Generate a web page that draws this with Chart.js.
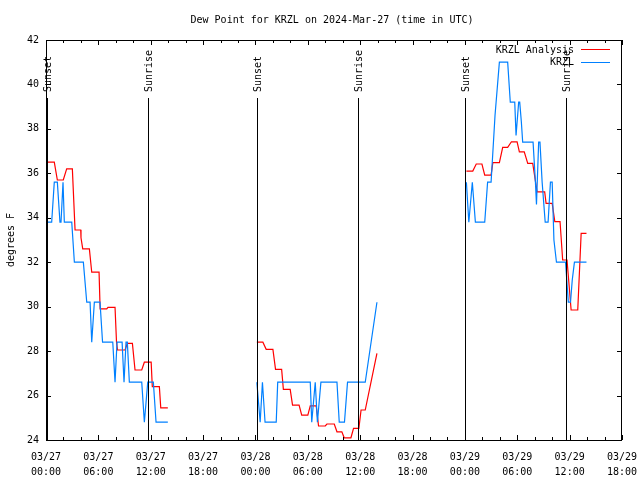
<!DOCTYPE html>
<html>
<head>
<meta charset="utf-8">
<script src="https://cdn.jsdelivr.net/npm/chart.js@4.4.1/dist/chart.umd.min.js"></script>
<style>
  html, body { margin: 0; padding: 0; background: #fff; }
  canvas { display: block; }
</style>
</head>
<body>
<canvas id="myChart" width="640" height="480"></canvas>
<script>
"use strict";
// hours since 03/27 00:00 UTC, dew point in F (null = gap in the record)
const analysisHours = [
  0, 0.95, 1.3, 1.98, 2.37, 2.87, 3.02, 3.33, 3.98, 4.01, 4.21, 4.97, 5.24, 6.08, 6.2, 6.96, 7.1, 7.91, 8.08, 8.2,
  9.06, 9.32, 9.9, 10.2, 10.97, 11.27, 12.05, 12.18, 12.99, 13.15, 13.96,
  18,
  24.16, 24.85, 25.23, 26.0, 26.3, 27.0, 27.2, 27.98, 28.25, 29.0, 29.3, 30.0, 30.28, 30.96, 31.23, 32.0, 32.19, 33.03,
  33.34, 33.9, 34.17, 34.94, 35.24, 35.85, 36.1, 36.58, 37.92,
  42,
  48.17, 48.9, 49.3, 49.95, 50.27, 51.0, 51.2, 51.95, 52.33, 52.9, 53.33, 53.98, 54.24, 54.8, 55.2, 55.77, 56.27, 57.14,
  57.3, 58.0, 58.3, 58.9, 59.2, 59.7, 60.17, 60.93, 61.32, 61.93
];
const analysisTemps = [
  36.5, 36.5, 35.7, 35.7, 36.2, 36.2, 36.2, 33.45, 33.45, 33.1, 32.6, 32.6, 31.55, 31.55, 29.9, 29.9, 29.97, 29.97, 28.4, 28.05,
  28.05, 28.35, 28.35, 27.15, 27.15, 27.5, 27.5, 26.4, 26.4, 25.45, 25.45,
  null,
  28.4, 28.4, 28.08, 28.08, 27.18, 27.18, 26.28, 26.28, 25.57, 25.57, 25.12, 25.12, 25.54, 25.54, 24.63, 24.63, 24.72, 24.72,
  24.37, 24.37, 24.1, 24.1, 24.52, 24.52, 25.35, 25.35, 27.9,
  null,
  36.1, 36.1, 36.42, 36.42, 35.92, 35.92, 36.48, 36.48, 37.17, 37.17, 37.42, 37.42, 36.97, 36.97, 36.45, 36.45, 35.17, 35.17,
  34.65, 34.65, 33.83, 33.83, 32.1, 32.1, 29.85, 29.85, 33.3, 33.3
];
const stationHours = [
  0, 0.65, 0.95, 1.3, 1.6, 1.72, 1.95, 2.1, 2.95, 3.25, 4.28, 4.67, 5.05, 5.24, 5.54, 6.19, 6.48, 7.65, 7.91, 8.14,
  8.72, 8.94, 9.17, 9.32, 9.55, 10.97, 11.27, 11.66, 12.3, 12.61, 13.96,
  18,
  24.16, 24.54, 24.8, 25.1, 26.38, 26.55, 30.28, 30.45, 30.85, 31.1, 31.5, 33.34, 33.6, 34.2, 34.55, 36.58, 37.92,
  42,
  48.17, 48.45, 48.85, 49.2, 50.27, 50.6, 51.0, 51.45, 51.95, 52.9, 53.2, 53.71, 53.86, 54.16, 54.28, 54.47, 54.62, 55.81,
  56.08, 56.2, 56.45, 56.6, 56.85, 57.2, 57.53, 57.8, 58.0, 58.2, 58.49, 59.53, 59.85, 60.1, 60.3, 60.55, 61.93
];
const stationTemps = [
  33.8, 33.8, 35.6, 35.6, 33.8, 33.8, 35.6, 33.8, 33.8, 32.0, 32.0, 30.2, 30.2, 28.4, 30.2, 30.2, 28.4, 28.4, 26.6, 28.4,
  28.4, 26.6, 28.4, 28.4, 26.6, 26.6, 24.8, 26.6, 26.6, 24.8, 24.8,
  null,
  26.6, 24.8, 26.6, 24.8, 24.8, 26.6, 26.6, 24.8, 26.6, 24.8, 26.6, 26.6, 24.8, 24.8, 26.6, 26.6, 30.2,
  null,
  35.6, 33.8, 35.6, 33.8, 33.8, 35.6, 35.6, 38.6, 41.0, 41.0, 39.2, 39.2, 37.7, 39.2, 39.2, 38.3, 37.4, 37.4,
  35.6, 34.6, 37.4, 37.4, 35.6, 33.8, 33.8, 35.6, 35.6, 33.0, 32.0, 32.0, 30.2, 30.2, 31.2, 32.0, 32.0
];
const sunHours = [0.08, 11.7, 24.13, 35.7, 48.05, 59.63];
const sunLabels = ["Sunset", "Sunrise", "Sunset", "Sunrise", "Sunset", "Sunrise"];
const xTickHours = [0, 6, 12, 18, 24, 30, 36, 42, 48, 54, 60, 66];
const xTickLabels = [
  ["03/27", "00:00"], ["03/27", "06:00"], ["03/27", "12:00"], ["03/27", "18:00"],
  ["03/28", "00:00"], ["03/28", "06:00"], ["03/28", "12:00"], ["03/28", "18:00"],
  ["03/29", "00:00"], ["03/29", "06:00"], ["03/29", "12:00"], ["03/29", "18:00"]
];
const yTicks = [24, 26, 28, 30, 32, 34, 36, 38, 40, 42];
const seriesNames = ["KRZL Analysis", "KRZL"];
const seriesColors = ["#ff0000", "#0080ff"];

const FONT = '10px "DejaVu Sans Mono", monospace';

function toPoints(hours, temps) {
  return hours.map((h, i) => ({ x: h, y: temps[i] }));
}

// frame, inward ticks, sunrise/sunset markers, key and titles (1px rects keep them crisp)
const decorations = {
  id: "decorations",
  afterDraw(chart) {
    const c = chart.ctx;
    const a = chart.chartArea;
    const xs = chart.scales.x;
    const ys = chart.scales.y;
    const L = Math.round(a.left), R = Math.round(a.right) - 1;
    const T = Math.round(a.top), B = Math.round(a.bottom);
    c.save();
    c.fillStyle = "#000";
    c.fillRect(L, T, R - L + 1, 1);
    c.fillRect(L, B, R - L + 1, 1);
    c.fillRect(L, T, 1, B - T + 1);
    c.fillRect(R, T, 1, B - T + 1);
    for (let h = 0; h <= 66; h += 2) {
      const px = Math.round(xs.getPixelForValue(h));
      const len = h % 6 === 0 ? 5 : 3;
      c.fillRect(px, B - len, 1, len);
      c.fillRect(px, T, 1, len);
    }
    yTicks.forEach(v => {
      const py = Math.round(ys.getPixelForValue(v));
      c.fillRect(L, py, 5, 1);
      c.fillRect(R - 4, py, 5, 1);
    });

    c.font = FONT;
    sunHours.forEach((h, i) => {
      const px = Math.round(xs.getPixelForValue(h));
      c.fillStyle = "#000";
      c.fillRect(px, 98, 1, B - 98);
      c.save();
      c.translate(px + 1.5, 92);
      c.rotate(-Math.PI / 2);
      c.textAlign = "left";
      c.textBaseline = "middle";
      c.fillText(sunLabels[i], 0, 0);
      c.restore();
    });

    // key
    seriesNames.forEach((name, i) => {
      const ky = 50.5 + i * 12;
      c.textAlign = "right";
      c.textBaseline = "middle";
      c.fillStyle = "#000";
      c.fillText(name, 574, ky);
      c.fillStyle = seriesColors[i];
      c.fillRect(581, 49 + i * 13, 29, 1);
    });

    c.fillStyle = "#000";
    c.textAlign = "center";
    c.textBaseline = "middle";
    c.fillText("Dew Point for KRZL on 2024-Mar-27 (time in UTC)", 332, 20.5);
    c.save();
    c.translate(11, 240);
    c.rotate(-Math.PI / 2);
    c.fillText("degrees F", 0, 0);
    c.restore();
    c.restore();
  }
};

const ctx = document.getElementById("myChart");
const myChart = new Chart(ctx, {
  type: "line",
  data: {
    datasets: [
      {
        label: seriesNames[0],
        data: toPoints(analysisHours, analysisTemps),
        borderColor: seriesColors[0],
        borderWidth: 1.2,
        pointRadius: 0,
        tension: 0,
        order: 1,
      },
      {
        label: seriesNames[1],
        data: toPoints(stationHours, stationTemps),
        borderColor: seriesColors[1],
        borderWidth: 1.2,
        pointRadius: 0,
        tension: 0,
        order: 0,
      },
    ],
  },
  options: {
    responsive: false,
    animation: false,
    layout: { padding: { top: 40, right: 18, left: 0, bottom: 0 } },
    plugins: {
      legend: { display: false },
      title: { display: false },
      tooltip: { enabled: false },
    },
    scales: {
      x: {
        type: "linear",
        min: 0,
        max: 66,
        grid: { display: false, drawTicks: false },
        border: { display: false },
        afterBuildTicks: s => { s.ticks = xTickHours.map(v => ({ value: v })); },
        afterFit: s => { s.height = 40; s.paddingLeft = 0; s.paddingRight = 0; },
        ticks: {
          autoSkip: false,
          maxRotation: 0,
          padding: 10,
          color: "#000",
          font: { family: '"DejaVu Sans Mono", monospace', size: 10, lineHeight: 1.5 },
          callback: (v, i) => xTickLabels[i],
        },
      },
      y: {
        min: 24,
        max: 42,
        grid: { display: false, drawTicks: false },
        border: { display: false },
        afterBuildTicks: s => { s.ticks = yTicks.map(v => ({ value: v })); },
        afterFit: s => { s.width = 46; s.paddingTop = 0; s.paddingBottom = 0; },
        ticks: {
          padding: 7,
          color: "#000",
          font: { family: '"DejaVu Sans Mono", monospace', size: 10 },
        },
      },
    },
  },
  plugins: [decorations],
});
</script>
</body>
</html>
